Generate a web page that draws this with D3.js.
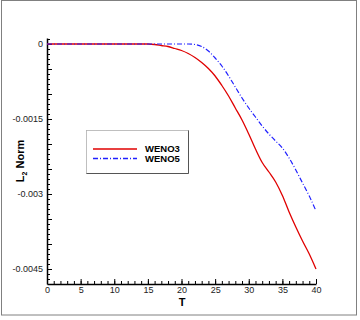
<!DOCTYPE html>
<html>
<head>
<meta charset="utf-8">
<script src="https://cdn.jsdelivr.net/npm/d3@7"></script>
<style>
  body { margin: 0; background: #fff; }
  svg { display: block; font-family: "Liberation Sans", Arial, sans-serif; }
</style>
</head>
<body>
<div id="chart"></div>
<script>
// Time values (T) sampled every 1 unit
const times = d3.range(0, 41);
// L2 norm, WENO3 (red, solid)
const weno3 = [0,0,0,0,0,0,0,0,0,0,0,0,0,0,0,0,
  -0.00001,-0.00003,-0.00005,-0.00009,-0.00013,-0.00019,-0.00027,-0.00037,-0.00049,
  -0.00064,-0.00083,-0.00104,-0.00128,-0.00152,-0.00180,-0.00210,-0.00237,-0.00256,
  -0.00276,-0.00303,-0.00336,-0.00366,-0.00394,-0.00420,-0.00450];
// WENO5 (blue, dash-dot)
const weno5 = [0,0,0,0,0,0,0,0,0,0,0,0,0,0,0,0,0,0,0,0,0,0,
  -0.00001,-0.00005,-0.00014,-0.00028,-0.00044,-0.00064,-0.00086,-0.00108,-0.00128,
  -0.00146,-0.00164,-0.00180,-0.00194,-0.00208,-0.00228,-0.00252,-0.00278,-0.00304,-0.00334];
const seriesNames = ["WENO3", "WENO5"];
const xTickValues = [0, 5, 10, 15, 20, 25, 30, 35, 40];
const yTickValues = [0, -0.0015, -0.003, -0.0045];
const yTickLabels = ["0", "-0.0015", "-0.003", "-0.0045"];

const W = 360, H = 320;
const svg = d3.select("#chart").append("svg")
    .attr("width", W).attr("height", H);

// outer frame
svg.append("rect")
    .attr("x", 1.5).attr("y", 0.5).attr("width", 355).attr("height", 314.5)
    .attr("fill", "none").attr("stroke", "#808080").attr("stroke-width", 1);

const x = d3.scaleLinear().domain([0, 40]).range([47, 316]);
const y = d3.scaleLinear().domain([-0.0048, 0.00012]).range([284, 38]);

// x axis: minor then major ticks, pointing inward
svg.append("g")
    .attr("transform", "translate(0,284)")
    .call(d3.axisBottom(x).tickValues(d3.range(0, 41, 1)).tickSize(-3).tickFormat(""))
    .call(g => g.select(".domain").remove());
const xAxis = svg.append("g")
    .attr("transform", "translate(0,284)")
    .call(d3.axisBottom(x).tickValues(xTickValues).tickSize(-5).tickSizeOuter(0).tickPadding(3));
xAxis.select(".domain").attr("stroke-width", 1.5);
xAxis.selectAll("text").attr("font-size", 9).attr("fill", "#222")
    .attr("font-family", "Liberation Sans, Arial, sans-serif");

// y axis
svg.append("g")
    .attr("transform", "translate(47,0)")
    .call(d3.axisLeft(y).tickValues(d3.range(-47, 2, 1).map(d => d * 0.0001)).tickSize(-3).tickFormat(""))
    .call(g => g.select(".domain").remove());
svg.append("g")
    .attr("transform", "translate(47,0)")
    .call(d3.axisLeft(y).tickValues(d3.range(-9, 1, 1).map(d => d * 0.0005)).tickSize(-5).tickFormat(""))
    .call(g => g.select(".domain").remove());
const yAxis = svg.append("g")
    .attr("transform", "translate(47,0)")
    .call(d3.axisLeft(y).tickValues(yTickValues).tickSize(0).tickSizeOuter(0).tickPadding(4)
        .tickFormat((d, i) => yTickLabels[i]));
yAxis.select(".domain").attr("stroke-width", 1.5);
yAxis.selectAll("text").attr("font-size", 9).attr("fill", "#222")
    .attr("font-family", "Liberation Sans, Arial, sans-serif");

// curves
const line = d3.line()
    .x((d, i) => x(times[i]))
    .y(d => y(d))
    .curve(d3.curveMonotoneX);

svg.append("path")
    .datum(weno3)
    .attr("d", line)
    .attr("fill", "none")
    .attr("stroke", "#e00000")
    .attr("stroke-width", 1.3);

svg.append("path")
    .datum(weno5)
    .attr("d", line)
    .attr("fill", "none")
    .attr("stroke", "#2020ff")
    .attr("stroke-width", 1.2)
    .attr("stroke-dasharray", "5,2,1,2");

// axis titles
svg.append("text")
    .attr("x", 182).attr("y", 306)
    .attr("text-anchor", "middle")
    .attr("font-size", 11).attr("font-weight", "bold")
    .text("T");

const yl = svg.append("text")
    .attr("transform", "translate(24,161) rotate(-90)")
    .attr("text-anchor", "middle")
    .attr("font-size", 11).attr("font-weight", "bold");
yl.append("tspan").text("L");
yl.append("tspan").attr("font-size", 7).attr("dy", 3).text("2");
yl.append("tspan").attr("dy", -3).text(" Norm");

// legend
svg.append("rect")
    .attr("x", 86.5).attr("y", 130.5).attr("width", 102).attr("height", 43)
    .attr("fill", "#fff").attr("stroke", "#b0b0b0").attr("stroke-width", 0.8);
svg.append("path")
    .attr("d", "M188.5,130.5V173.5H86.5")
    .attr("fill", "none").attr("stroke", "#555").attr("stroke-width", 1);

const legendColors = ["#e00000", "#2020ff"];
const legendDash = [null, "5,2,1,2"];
seriesNames.forEach((name, i) => {
  const ly = 149 + i * 9.5;
  svg.append("line")
      .attr("x1", 93).attr("x2", 137).attr("y1", ly).attr("y2", ly)
      .attr("stroke", legendColors[i]).attr("stroke-width", 1.3)
      .attr("stroke-dasharray", legendDash[i]);
  svg.append("text")
      .attr("x", 145).attr("y", ly).attr("dy", "0.35em")
      .attr("font-size", 9.5).attr("font-weight", "bold")
      .text(name);
});
</script>
</body>
</html>
